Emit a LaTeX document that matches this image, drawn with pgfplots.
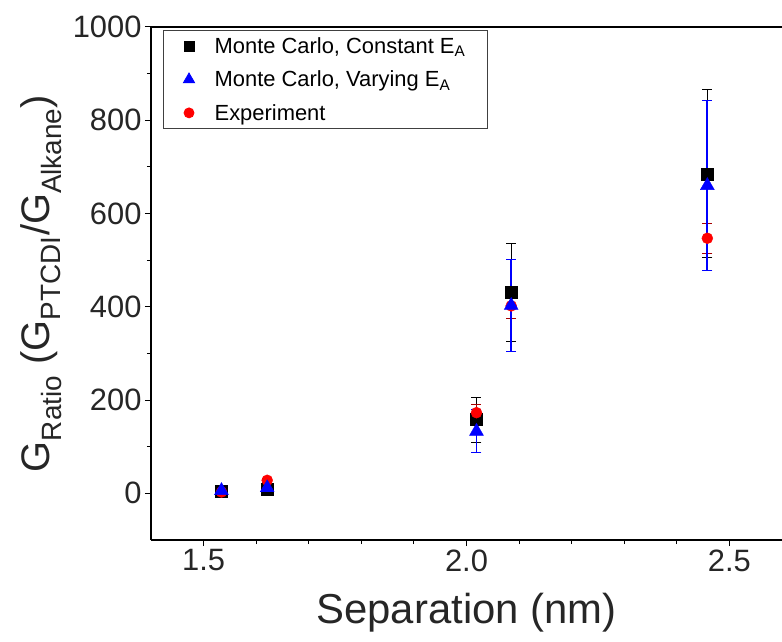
\documentclass[border=0pt]{standalone}
\usepackage{fontspec}
\setmainfont{Liberation Sans}
\usepackage{pgfplots}
\pgfplotsset{compat=1.18}

% data: x, y, error
\pgfplotstableread{
x     y    e
1.534 4    3
1.621 10   4
2.019 158  48
2.085 431  105
2.458 685  180
}\constant
\pgfplotstableread{
x     y    e
1.534 6    3
1.621 12   8
2.019 133  46
2.085 403  99
2.458 660  182
}\varying
\pgfplotstableread{
x     y    e
1.534 3    2
1.621 28   4
2.019 173  17
2.085 402  28
2.458 547  32
}\experiment

\begin{document}
\begin{tikzpicture}
\path[use as bounding box] (-151bp,-102bp) rectangle (631bp,540bp);
\begin{axis}[
    scale only axis,
    width=631bp, height=513bp,
    xmin=1.4, xmax=2.6, ymin=-100, ymax=1000,
    axis x line*=box, axis y line*=left,
    xtick pos=left, ytick pos=left,
    xtick={1.5,2.0,2.5}, xticklabels={1.5,2.0,2.5},
    minor x tick num=4,
    ytick={0,200,400,600,800,1000},
    minor y tick num=1,
    scaled y ticks=false,
    tick align=outside,
    major tick length=6bp, minor tick length=4bp,
    every tick/.style={black, line width=1bp},
    axis line style={black, line width=1.3bp},
    /pgf/number format/assume math mode=true,
    /pgf/number format/1000 sep={},
    ticklabel style={font=\fontsize{31}{34}\selectfont, text=black!85},
    xlabel={Separation (nm)},
    ylabel={G\textsubscript{Ratio} (G\textsubscript{PTCDI}/G\textsubscript{Alkane})},
    label style={text=black!85},
    xlabel style={font=\fontsize{42}{46}\selectfont, yshift=-15bp},
    ylabel style={font=\fontsize{40}{44}\selectfont, yshift=4bp},
    legend style={at={(0.019,0.994)}, anchor=north west, draw=black!75,
        line width=0.8bp, font=\fontsize{22}{25}\selectfont,
        row sep=12bp, inner xsep=20bp, inner ysep=5bp,
        /tikz/every odd column/.style={column sep=18bp}},
    legend cell align=left,
]
% error bars first, markers on top
\addplot[forget plot, only marks, mark=none, black,
    error bars/.cd, y dir=both, y explicit,
    error bar style={black, line width=1bp},
    error mark options={rotate=90, black, mark size=5bp, line width=1bp}]
    table[x=x, y=y, y error=e] {\constant};
\addplot[forget plot, only marks, mark=none, red!65!black,
    error bars/.cd, y dir=both, y explicit,
    error bar style={red!65!black, line width=1bp},
    error mark options={rotate=90, red!65!black, mark size=5bp, line width=1bp}]
    table[x=x, y=y, y error=e] {\experiment};
\addplot[forget plot, only marks, mark=none, blue,
    error bars/.cd, y dir=both, y explicit,
    error bar style={blue, line width=1.8bp},
    error mark options={rotate=90, blue, mark size=5bp, line width=1bp}]
    table[x=x, y=y, y error=e] {\varying};

\addplot[forget plot, only marks, mark=square*, mark size=6bp, black]
    table[x=x, y=y] {\constant};
\addplot[forget plot, only marks, mark=*, mark size=5.5bp, red]
    table[x=x, y=y] {\experiment};
\addplot[forget plot, only marks, mark=triangle*, mark size=8bp, blue]
    table[x=x, y=y] {\varying};

\addlegendimage{only marks, mark=square*, mark size=5bp, black}
\addlegendentry{Monte Carlo, Constant E\textsubscript{A}}
\addlegendimage{only marks, mark=triangle*, mark size=6.5bp, blue}
\addlegendentry{Monte Carlo, Varying E\textsubscript{A}}
\addlegendimage{only marks, mark=*, mark size=5bp, red}
\addlegendentry{Experiment}
\end{axis}
\end{tikzpicture}
\end{document}
